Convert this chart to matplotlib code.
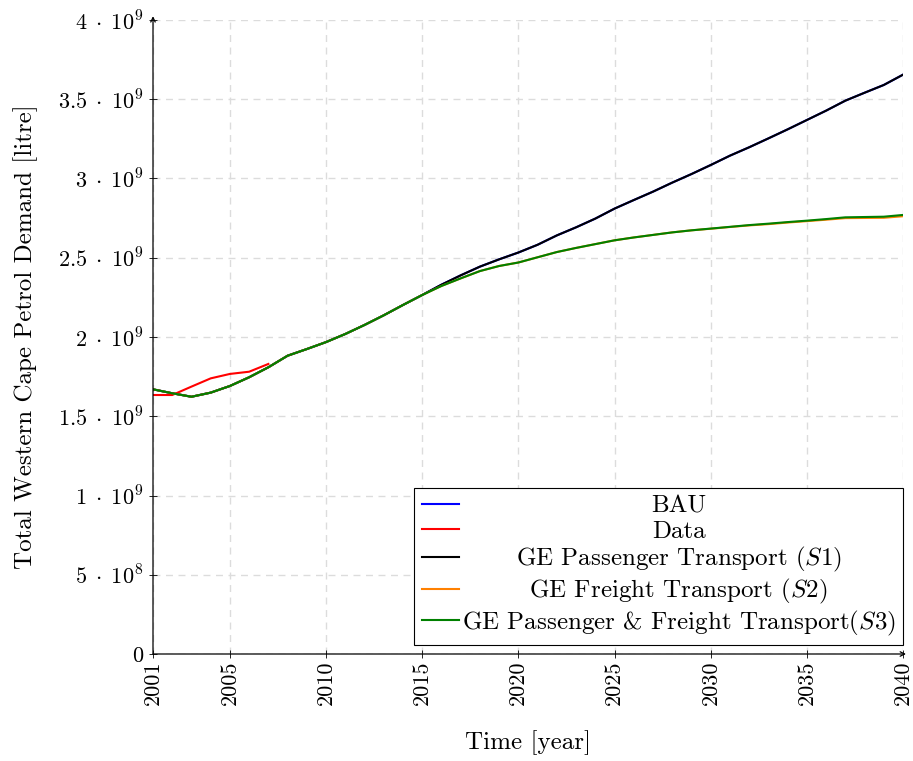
import matplotlib
matplotlib.use("Agg")
import matplotlib.pyplot as plt
import numpy as np

plt.rcParams['font.family'] = 'serif'
plt.rcParams['font.serif'] = ['cmr10']
plt.rcParams['mathtext.fontset'] = 'cm'
plt.rcParams['axes.unicode_minus'] = False
plt.rcParams['axes.formatter.use_mathtext'] = True

years = list(range(2001, 2041))

bau = [1.670, 1.645, 1.623, 1.649, 1.691, 1.746, 1.809, 1.882, 1.924, 1.968,
       2.019, 2.076, 2.137, 2.202, 2.265, 2.330, 2.389, 2.444, 2.490, 2.533,
       2.582, 2.641, 2.692, 2.747, 2.810, 2.864, 2.917, 2.974, 3.028, 3.085,
       3.144, 3.197, 3.253, 3.310, 3.369, 3.428, 3.491, 3.541, 3.590, 3.655]

data_years = [2001, 2002, 2003, 2004, 2005, 2006, 2007]
data_vals = [1.634, 1.634, 1.687, 1.739, 1.767, 1.781, 1.830]

s1 = [1.670, 1.645, 1.623, 1.649, 1.691, 1.746, 1.809, 1.882, 1.924, 1.968,
      2.019, 2.076, 2.137, 2.202, 2.265, 2.330, 2.389, 2.444, 2.490, 2.533,
      2.582, 2.641, 2.692, 2.747, 2.810, 2.864, 2.917, 2.974, 3.028, 3.085,
      3.144, 3.197, 3.253, 3.310, 3.369, 3.428, 3.491, 3.541, 3.590, 3.655]

s2 = [1.670, 1.645, 1.623, 1.649, 1.691, 1.746, 1.809, 1.882, 1.924, 1.968,
      2.019, 2.076, 2.137, 2.202, 2.265, 2.322, 2.370, 2.416, 2.448, 2.470,
      2.503, 2.536, 2.562, 2.586, 2.610, 2.628, 2.644, 2.660, 2.673, 2.683,
      2.694, 2.704, 2.712, 2.722, 2.731, 2.740, 2.750, 2.751, 2.752, 2.762]

s3 = [1.670, 1.645, 1.623, 1.649, 1.691, 1.746, 1.809, 1.882, 1.924, 1.968,
      2.019, 2.076, 2.137, 2.202, 2.265, 2.322, 2.370, 2.416, 2.448, 2.470,
      2.503, 2.536, 2.562, 2.586, 2.610, 2.628, 2.644, 2.660, 2.673, 2.684,
      2.695, 2.706, 2.715, 2.725, 2.734, 2.744, 2.755, 2.757, 2.759, 2.770]

scale = 1e9

xticks = [2001, 2005, 2010, 2015, 2020, 2025, 2030, 2035, 2040]
yticks = [0, 0.5, 1, 1.5, 2, 2.5, 3, 3.5, 4]
ytick_labels = ['0', r'$5\;\cdot\;10^{8}$', r'$1\;\cdot\;10^{9}$', r'$1.5\;\cdot\;10^{9}$',
                r'$2\;\cdot\;10^{9}$', r'$2.5\;\cdot\;10^{9}$', r'$3\;\cdot\;10^{9}$',
                r'$3.5\;\cdot\;10^{9}$', r'$4\;\cdot\;10^{9}$']

labels = ['BAU', 'Data', r'GE Passenger Transport ($\mathit{S1}$)',
          r'GE Freight Transport ($\mathit{S2}$)',
          r'GE Passenger & Freight Transport($\mathit{S3}$)']

W, H = 913, 761
fig = plt.figure(figsize=(W / 100, H / 100), dpi=100)
ax = fig.add_axes([153 / W, (H - 654) / H, 750 / W, 634 / H])

lw = 1.5
ax.plot(years, np.array(bau) * scale, color=(0, 0, 1), lw=lw, label=labels[0])
ax.plot(data_years, np.array(data_vals) * scale, color=(1, 0, 0), lw=lw, label=labels[1])
ax.plot(years, np.array(s1) * scale, color='black', lw=lw, label=labels[2])
ax.plot(years, np.array(s2) * scale, color=(1, 0.5, 0), lw=lw, label=labels[3])
ax.plot(years, np.array(s3) * scale, color=(0, 0.5, 0), lw=lw, label=labels[4])

ax.set_xlim(2001, 2040)
ax.set_ylim(0, 4 * scale)
ax.set_xticks(xticks)
ax.set_xticklabels([str(x) for x in xticks], rotation=90)
ax.set_yticks([v * scale for v in yticks])
ax.set_yticklabels(ytick_labels)
ax.tick_params(axis='both', direction='inout', length=6, width=0.6, labelsize=16,
               color='black')
ax.tick_params(axis='x', pad=2)
ax.tick_params(axis='y', pad=4)

ax.grid(True, color='#dcdcdc', linestyle=(0, (5, 4)), linewidth=1.0)
ax.set_axisbelow(True)

for s in ['top', 'right', 'left', 'bottom']:
    ax.spines[s].set_visible(False)

ax.annotate('', xy=(0, 1.006), xytext=(0, 0), xycoords='axes fraction',
            arrowprops=dict(arrowstyle='->', color='black', lw=0.9,
                            mutation_scale=8, shrinkA=0, shrinkB=0))
ax.annotate('', xy=(1.004, 0), xytext=(0, 0), xycoords='axes fraction',
            arrowprops=dict(arrowstyle='->', color='black', lw=0.9,
                            mutation_scale=8, shrinkA=0, shrinkB=0))

ax.set_xlabel('Time [year]', fontsize=18, labelpad=18)
ax.set_ylabel('Total Western Cape Petrol Demand [litre]', fontsize=18, labelpad=14)

leg = ax.legend(loc='lower right', bbox_to_anchor=(1.0, 9 / 634), fontsize=18,
                frameon=True, fancybox=False, edgecolor='black', framealpha=1,
                handlelength=1.5, handletextpad=0.1, labelspacing=0.1,
                borderaxespad=0.0, borderpad=0.3)
leg.get_frame().set_linewidth(0.8)

fig.canvas.draw()
r = fig.canvas.get_renderer()
widths = [t.get_window_extent(r).width for t in leg.get_texts()]
wmax = max(widths)
for t, w in zip(leg.get_texts(), widths):
    t.set_x((wmax - w) / 2)

fig.savefig('out.png', dpi=100)
